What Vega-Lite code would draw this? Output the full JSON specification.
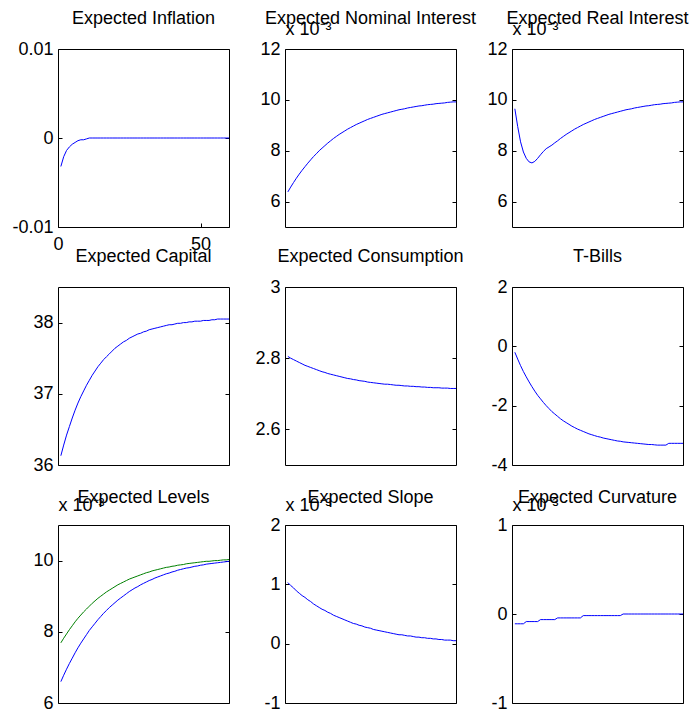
{
  "$schema": "https://vega.github.io/schema/vega-lite/v6.json",
  "autosize": {"type": "pad"},
  "padding": {"left": 11, "top": 9, "right": 0, "bottom": 0},
  "background": "white",
  "columns": 3,
  "spacing": {"row": 60, "column": 56},
  "bounds": "flush",
  "config": {
    "font": "Liberation Sans",
    "view": {"stroke": "#000000", "strokeWidth": 1},
    "axis": {"domain": false, "grid": false, "labelFont": "Liberation Sans", "labelFontSize": 18, "labelColor": "#000000", "tickColor": "#000000", "tickSize": -4, "labelPadding": 9, "labelOverlap": false, "labelFlush": false, "titleFont": "Liberation Sans", "titleFontSize": 18, "titleFontWeight": "normal", "titleColor": "#000000"},
    "title": {"font": "Liberation Sans", "fontSize": 18, "fontWeight": "normal", "color": "#000000", "anchor": "middle", "frame": "group"},
    "locale": {"number": {"decimal": ".", "thousands": ",", "grouping": [3], "currency": ["$", ""], "minus": "-"}}
  },
  "datasets": {
    "inflation": [{"t":1,"v":-0.0032},{"t":2,"v":-0.0021},{"t":3,"v":-0.0014},{"t":4,"v":-0.001},{"t":5,"v":-0.0007},{"t":6,"v":-0.0005},{"t":7,"v":-0.0003},{"t":8,"v":-0.0002},{"t":9,"v":-0.0002},{"t":10,"v":-0.0001},{"t":11,"v":0},{"t":12,"v":0},{"t":13,"v":0},{"t":14,"v":0},{"t":15,"v":0},{"t":16,"v":0},{"t":17,"v":0},{"t":18,"v":0},{"t":19,"v":0},{"t":20,"v":0},{"t":21,"v":0},{"t":22,"v":0},{"t":23,"v":0},{"t":24,"v":0},{"t":25,"v":0},{"t":26,"v":0},{"t":27,"v":0},{"t":28,"v":0},{"t":29,"v":0},{"t":30,"v":0},{"t":31,"v":0},{"t":32,"v":0},{"t":33,"v":0},{"t":34,"v":0},{"t":35,"v":0},{"t":36,"v":0},{"t":37,"v":0},{"t":38,"v":0},{"t":39,"v":0},{"t":40,"v":0},{"t":41,"v":0},{"t":42,"v":0},{"t":43,"v":0},{"t":44,"v":0},{"t":45,"v":0},{"t":46,"v":0},{"t":47,"v":0},{"t":48,"v":0},{"t":49,"v":0},{"t":50,"v":0},{"t":51,"v":0},{"t":52,"v":0},{"t":53,"v":0},{"t":54,"v":0},{"t":55,"v":0},{"t":56,"v":0},{"t":57,"v":0},{"t":58,"v":0},{"t":59,"v":0},{"t":60,"v":0}],
    "nominal": [{"t":1,"v":6.38},{"t":2,"v":6.57},{"t":3,"v":6.75},{"t":4,"v":6.92},{"t":5,"v":7.08},{"t":6,"v":7.23},{"t":7,"v":7.37},{"t":8,"v":7.51},{"t":9,"v":7.64},{"t":10,"v":7.77},{"t":11,"v":7.88},{"t":12,"v":8.0},{"t":13,"v":8.1},{"t":14,"v":8.2},{"t":15,"v":8.3},{"t":16,"v":8.39},{"t":17,"v":8.48},{"t":18,"v":8.56},{"t":19,"v":8.64},{"t":20,"v":8.71},{"t":21,"v":8.78},{"t":22,"v":8.85},{"t":23,"v":8.91},{"t":24,"v":8.97},{"t":25,"v":9.03},{"t":26,"v":9.08},{"t":27,"v":9.13},{"t":28,"v":9.18},{"t":29,"v":9.23},{"t":30,"v":9.27},{"t":31,"v":9.31},{"t":32,"v":9.35},{"t":33,"v":9.39},{"t":34,"v":9.43},{"t":35,"v":9.46},{"t":36,"v":9.49},{"t":37,"v":9.52},{"t":38,"v":9.55},{"t":39,"v":9.58},{"t":40,"v":9.61},{"t":41,"v":9.63},{"t":42,"v":9.65},{"t":43,"v":9.68},{"t":44,"v":9.7},{"t":45,"v":9.72},{"t":46,"v":9.74},{"t":47,"v":9.76},{"t":48,"v":9.77},{"t":49,"v":9.79},{"t":50,"v":9.81},{"t":51,"v":9.82},{"t":52,"v":9.83},{"t":53,"v":9.85},{"t":54,"v":9.86},{"t":55,"v":9.87},{"t":56,"v":9.88},{"t":57,"v":9.9},{"t":58,"v":9.91},{"t":59,"v":9.92},{"t":60,"v":9.92}],
    "real": [{"t":1,"v":9.65},{"t":2,"v":8.95},{"t":3,"v":8.35},{"t":4,"v":7.95},{"t":5,"v":7.7},{"t":6,"v":7.56},{"t":7,"v":7.52},{"t":8,"v":7.58},{"t":9,"v":7.7},{"t":10,"v":7.84},{"t":11,"v":7.97},{"t":12,"v":8.08},{"t":13,"v":8.15},{"t":14,"v":8.22},{"t":15,"v":8.31},{"t":16,"v":8.39},{"t":17,"v":8.48},{"t":18,"v":8.56},{"t":19,"v":8.64},{"t":20,"v":8.71},{"t":21,"v":8.78},{"t":22,"v":8.85},{"t":23,"v":8.91},{"t":24,"v":8.97},{"t":25,"v":9.03},{"t":26,"v":9.08},{"t":27,"v":9.13},{"t":28,"v":9.18},{"t":29,"v":9.23},{"t":30,"v":9.27},{"t":31,"v":9.31},{"t":32,"v":9.35},{"t":33,"v":9.39},{"t":34,"v":9.43},{"t":35,"v":9.46},{"t":36,"v":9.49},{"t":37,"v":9.52},{"t":38,"v":9.55},{"t":39,"v":9.58},{"t":40,"v":9.61},{"t":41,"v":9.63},{"t":42,"v":9.65},{"t":43,"v":9.68},{"t":44,"v":9.7},{"t":45,"v":9.72},{"t":46,"v":9.74},{"t":47,"v":9.76},{"t":48,"v":9.77},{"t":49,"v":9.79},{"t":50,"v":9.81},{"t":51,"v":9.82},{"t":52,"v":9.83},{"t":53,"v":9.85},{"t":54,"v":9.86},{"t":55,"v":9.87},{"t":56,"v":9.88},{"t":57,"v":9.9},{"t":58,"v":9.91},{"t":59,"v":9.92},{"t":60,"v":9.92}],
    "capital": [{"t":1,"v":36.13},{"t":2,"v":36.28},{"t":3,"v":36.42},{"t":4,"v":36.54},{"t":5,"v":36.66},{"t":6,"v":36.77},{"t":7,"v":36.87},{"t":8,"v":36.96},{"t":9,"v":37.04},{"t":10,"v":37.12},{"t":11,"v":37.19},{"t":12,"v":37.26},{"t":13,"v":37.32},{"t":14,"v":37.38},{"t":15,"v":37.43},{"t":16,"v":37.48},{"t":17,"v":37.52},{"t":18,"v":37.56},{"t":19,"v":37.6},{"t":20,"v":37.64},{"t":21,"v":37.67},{"t":22,"v":37.7},{"t":23,"v":37.73},{"t":24,"v":37.75},{"t":25,"v":37.78},{"t":26,"v":37.8},{"t":27,"v":37.82},{"t":28,"v":37.84},{"t":29,"v":37.85},{"t":30,"v":37.87},{"t":31,"v":37.88},{"t":32,"v":37.9},{"t":33,"v":37.91},{"t":34,"v":37.92},{"t":35,"v":37.93},{"t":36,"v":37.94},{"t":37,"v":37.95},{"t":38,"v":37.96},{"t":39,"v":37.97},{"t":40,"v":37.97},{"t":41,"v":37.98},{"t":42,"v":37.99},{"t":43,"v":37.99},{"t":44,"v":38.0},{"t":45,"v":38.0},{"t":46,"v":38.01},{"t":47,"v":38.01},{"t":48,"v":38.02},{"t":49,"v":38.02},{"t":50,"v":38.02},{"t":51,"v":38.03},{"t":52,"v":38.03},{"t":53,"v":38.03},{"t":54,"v":38.04},{"t":55,"v":38.04},{"t":56,"v":38.05},{"t":57,"v":38.05},{"t":58,"v":38.05},{"t":59,"v":38.05},{"t":60,"v":38.05}],
    "consumption": [{"t":1,"v":2.805},{"t":2,"v":2.8},{"t":3,"v":2.796},{"t":4,"v":2.792},{"t":5,"v":2.788},{"t":6,"v":2.784},{"t":7,"v":2.78},{"t":8,"v":2.777},{"t":9,"v":2.774},{"t":10,"v":2.771},{"t":11,"v":2.768},{"t":12,"v":2.765},{"t":13,"v":2.762},{"t":14,"v":2.76},{"t":15,"v":2.757},{"t":16,"v":2.755},{"t":17,"v":2.753},{"t":18,"v":2.751},{"t":19,"v":2.749},{"t":20,"v":2.747},{"t":21,"v":2.745},{"t":22,"v":2.743},{"t":23,"v":2.742},{"t":24,"v":2.74},{"t":25,"v":2.739},{"t":26,"v":2.737},{"t":27,"v":2.736},{"t":28,"v":2.735},{"t":29,"v":2.733},{"t":30,"v":2.732},{"t":31,"v":2.731},{"t":32,"v":2.73},{"t":33,"v":2.729},{"t":34,"v":2.728},{"t":35,"v":2.727},{"t":36,"v":2.727},{"t":37,"v":2.726},{"t":38,"v":2.725},{"t":39,"v":2.724},{"t":40,"v":2.724},{"t":41,"v":2.723},{"t":42,"v":2.722},{"t":43,"v":2.722},{"t":44,"v":2.721},{"t":45,"v":2.721},{"t":46,"v":2.72},{"t":47,"v":2.72},{"t":48,"v":2.719},{"t":49,"v":2.719},{"t":50,"v":2.718},{"t":51,"v":2.718},{"t":52,"v":2.717},{"t":53,"v":2.717},{"t":54,"v":2.717},{"t":55,"v":2.716},{"t":56,"v":2.716},{"t":57,"v":2.716},{"t":58,"v":2.715},{"t":59,"v":2.715},{"t":60,"v":2.715}],
    "tbills": [{"t":1,"v":-0.2},{"t":2,"v":-0.43},{"t":3,"v":-0.65},{"t":4,"v":-0.85},{"t":5,"v":-1.03},{"t":6,"v":-1.2},{"t":7,"v":-1.36},{"t":8,"v":-1.51},{"t":9,"v":-1.65},{"t":10,"v":-1.77},{"t":11,"v":-1.89},{"t":12,"v":-2.0},{"t":13,"v":-2.1},{"t":14,"v":-2.2},{"t":15,"v":-2.28},{"t":16,"v":-2.36},{"t":17,"v":-2.44},{"t":18,"v":-2.51},{"t":19,"v":-2.57},{"t":20,"v":-2.63},{"t":21,"v":-2.69},{"t":22,"v":-2.74},{"t":23,"v":-2.79},{"t":24,"v":-2.83},{"t":25,"v":-2.87},{"t":26,"v":-2.91},{"t":27,"v":-2.95},{"t":28,"v":-2.98},{"t":29,"v":-3.01},{"t":30,"v":-3.04},{"t":31,"v":-3.06},{"t":32,"v":-3.09},{"t":33,"v":-3.11},{"t":34,"v":-3.13},{"t":35,"v":-3.15},{"t":36,"v":-3.17},{"t":37,"v":-3.19},{"t":38,"v":-3.2},{"t":39,"v":-3.22},{"t":40,"v":-3.23},{"t":41,"v":-3.24},{"t":42,"v":-3.25},{"t":43,"v":-3.26},{"t":44,"v":-3.27},{"t":45,"v":-3.28},{"t":46,"v":-3.29},{"t":47,"v":-3.3},{"t":48,"v":-3.31},{"t":49,"v":-3.31},{"t":50,"v":-3.32},{"t":51,"v":-3.33},{"t":52,"v":-3.33},{"t":53,"v":-3.33},{"t":54,"v":-3.33},{"t":55,"v":-3.27},{"t":56,"v":-3.27},{"t":57,"v":-3.27},{"t":58,"v":-3.27},{"t":59,"v":-3.27},{"t":60,"v":-3.27}],
    "levels": [{"t":1,"s":"b","v":6.6},{"t":2,"s":"b","v":6.78},{"t":3,"s":"b","v":6.95},{"t":4,"s":"b","v":7.11},{"t":5,"s":"b","v":7.26},{"t":6,"s":"b","v":7.41},{"t":7,"s":"b","v":7.55},{"t":8,"s":"b","v":7.68},{"t":9,"s":"b","v":7.8},{"t":10,"s":"b","v":7.92},{"t":11,"s":"b","v":8.04},{"t":12,"s":"b","v":8.14},{"t":13,"s":"b","v":8.24},{"t":14,"s":"b","v":8.34},{"t":15,"s":"b","v":8.43},{"t":16,"s":"b","v":8.52},{"t":17,"s":"b","v":8.6},{"t":18,"s":"b","v":8.68},{"t":19,"s":"b","v":8.75},{"t":20,"s":"b","v":8.82},{"t":21,"s":"b","v":8.89},{"t":22,"s":"b","v":8.95},{"t":23,"s":"b","v":9.01},{"t":24,"s":"b","v":9.07},{"t":25,"s":"b","v":9.13},{"t":26,"s":"b","v":9.18},{"t":27,"s":"b","v":9.23},{"t":28,"s":"b","v":9.27},{"t":29,"s":"b","v":9.32},{"t":30,"s":"b","v":9.36},{"t":31,"s":"b","v":9.4},{"t":32,"s":"b","v":9.44},{"t":33,"s":"b","v":9.47},{"t":34,"s":"b","v":9.51},{"t":35,"s":"b","v":9.54},{"t":36,"s":"b","v":9.57},{"t":37,"s":"b","v":9.6},{"t":38,"s":"b","v":9.63},{"t":39,"s":"b","v":9.65},{"t":40,"s":"b","v":9.68},{"t":41,"s":"b","v":9.7},{"t":42,"s":"b","v":9.73},{"t":43,"s":"b","v":9.75},{"t":44,"s":"b","v":9.77},{"t":45,"s":"b","v":9.79},{"t":46,"s":"b","v":9.8},{"t":47,"s":"b","v":9.82},{"t":48,"s":"b","v":9.84},{"t":49,"s":"b","v":9.85},{"t":50,"s":"b","v":9.87},{"t":51,"s":"b","v":9.88},{"t":52,"s":"b","v":9.9},{"t":53,"s":"b","v":9.91},{"t":54,"s":"b","v":9.92},{"t":55,"s":"b","v":9.93},{"t":56,"s":"b","v":9.94},{"t":57,"s":"b","v":9.95},{"t":58,"s":"b","v":9.96},{"t":59,"s":"b","v":9.97},{"t":60,"s":"b","v":9.98},
      {"t":1,"s":"g","v":7.69},{"t":2,"s":"g","v":7.82},{"t":3,"s":"g","v":7.94},{"t":4,"s":"g","v":8.06},{"t":5,"s":"g","v":8.17},{"t":6,"s":"g","v":8.28},{"t":7,"s":"g","v":8.38},{"t":8,"s":"g","v":8.47},{"t":9,"s":"g","v":8.56},{"t":10,"s":"g","v":8.64},{"t":11,"s":"g","v":8.72},{"t":12,"s":"g","v":8.8},{"t":13,"s":"g","v":8.87},{"t":14,"s":"g","v":8.94},{"t":15,"s":"g","v":9.0},{"t":16,"s":"g","v":9.06},{"t":17,"s":"g","v":9.12},{"t":18,"s":"g","v":9.17},{"t":19,"s":"g","v":9.22},{"t":20,"s":"g","v":9.27},{"t":21,"s":"g","v":9.32},{"t":22,"s":"g","v":9.36},{"t":23,"s":"g","v":9.4},{"t":24,"s":"g","v":9.44},{"t":25,"s":"g","v":9.48},{"t":26,"s":"g","v":9.51},{"t":27,"s":"g","v":9.54},{"t":28,"s":"g","v":9.57},{"t":29,"s":"g","v":9.6},{"t":30,"s":"g","v":9.63},{"t":31,"s":"g","v":9.66},{"t":32,"s":"g","v":9.68},{"t":33,"s":"g","v":9.71},{"t":34,"s":"g","v":9.73},{"t":35,"s":"g","v":9.75},{"t":36,"s":"g","v":9.77},{"t":37,"s":"g","v":9.79},{"t":38,"s":"g","v":9.81},{"t":39,"s":"g","v":9.82},{"t":40,"s":"g","v":9.84},{"t":41,"s":"g","v":9.85},{"t":42,"s":"g","v":9.87},{"t":43,"s":"g","v":9.88},{"t":44,"s":"g","v":9.89},{"t":45,"s":"g","v":9.91},{"t":46,"s":"g","v":9.92},{"t":47,"s":"g","v":9.93},{"t":48,"s":"g","v":9.94},{"t":49,"s":"g","v":9.95},{"t":50,"s":"g","v":9.96},{"t":51,"s":"g","v":9.97},{"t":52,"s":"g","v":9.98},{"t":53,"s":"g","v":9.98},{"t":54,"s":"g","v":9.99},{"t":55,"s":"g","v":10.0},{"t":56,"s":"g","v":10.0},{"t":57,"s":"g","v":10.01},{"t":58,"s":"g","v":10.02},{"t":59,"s":"g","v":10.02},{"t":60,"s":"g","v":10.03}],
    "slope": [{"t":1,"v":1.03},{"t":2,"v":0.98},{"t":3,"v":0.94},{"t":4,"v":0.89},{"t":5,"v":0.85},{"t":6,"v":0.81},{"t":7,"v":0.78},{"t":8,"v":0.74},{"t":9,"v":0.71},{"t":10,"v":0.67},{"t":11,"v":0.64},{"t":12,"v":0.61},{"t":13,"v":0.58},{"t":14,"v":0.56},{"t":15,"v":0.53},{"t":16,"v":0.51},{"t":17,"v":0.48},{"t":18,"v":0.46},{"t":19,"v":0.44},{"t":20,"v":0.42},{"t":21,"v":0.4},{"t":22,"v":0.38},{"t":23,"v":0.36},{"t":24,"v":0.34},{"t":25,"v":0.33},{"t":26,"v":0.31},{"t":27,"v":0.3},{"t":28,"v":0.28},{"t":29,"v":0.27},{"t":30,"v":0.26},{"t":31,"v":0.24},{"t":32,"v":0.23},{"t":33,"v":0.22},{"t":34,"v":0.21},{"t":35,"v":0.2},{"t":36,"v":0.19},{"t":37,"v":0.18},{"t":38,"v":0.17},{"t":39,"v":0.16},{"t":40,"v":0.15},{"t":41,"v":0.15},{"t":42,"v":0.14},{"t":43,"v":0.13},{"t":44,"v":0.13},{"t":45,"v":0.12},{"t":46,"v":0.11},{"t":47,"v":0.11},{"t":48,"v":0.1},{"t":49,"v":0.1},{"t":50,"v":0.09},{"t":51,"v":0.09},{"t":52,"v":0.08},{"t":53,"v":0.08},{"t":54,"v":0.07},{"t":55,"v":0.07},{"t":56,"v":0.06},{"t":57,"v":0.06},{"t":58,"v":0.06},{"t":59,"v":0.05},{"t":60,"v":0.05}],
    "curvature": [{"t":1,"v":-0.11},{"t":2,"v":-0.11},{"t":3,"v":-0.11},{"t":4,"v":-0.11},{"t":5,"v":-0.085},{"t":6,"v":-0.085},{"t":7,"v":-0.085},{"t":8,"v":-0.085},{"t":9,"v":-0.085},{"t":10,"v":-0.063},{"t":11,"v":-0.063},{"t":12,"v":-0.063},{"t":13,"v":-0.063},{"t":14,"v":-0.063},{"t":15,"v":-0.063},{"t":16,"v":-0.044},{"t":17,"v":-0.044},{"t":18,"v":-0.044},{"t":19,"v":-0.044},{"t":20,"v":-0.044},{"t":21,"v":-0.044},{"t":22,"v":-0.044},{"t":23,"v":-0.044},{"t":24,"v":-0.044},{"t":25,"v":-0.018},{"t":26,"v":-0.018},{"t":27,"v":-0.018},{"t":28,"v":-0.018},{"t":29,"v":-0.018},{"t":30,"v":-0.018},{"t":31,"v":-0.018},{"t":32,"v":-0.018},{"t":33,"v":-0.018},{"t":34,"v":-0.018},{"t":35,"v":-0.018},{"t":36,"v":-0.018},{"t":37,"v":-0.018},{"t":38,"v":-0.018},{"t":39,"v":0},{"t":40,"v":0},{"t":41,"v":0},{"t":42,"v":0},{"t":43,"v":0},{"t":44,"v":0},{"t":45,"v":0},{"t":46,"v":0},{"t":47,"v":0},{"t":48,"v":0},{"t":49,"v":0},{"t":50,"v":0},{"t":51,"v":0},{"t":52,"v":0},{"t":53,"v":0},{"t":54,"v":0},{"t":55,"v":0},{"t":56,"v":0},{"t":57,"v":0},{"t":58,"v":0},{"t":59,"v":0},{"t":60,"v":0}]
  },
  "concat": [
    {
      "width": 171, "height": 178,
      "title": {"text": "Expected Inflation", "offset": 12},
      "data": {"name": "inflation"},
      "encoding": {"x": {"field": "t", "type": "quantitative", "scale": {"domain": [0, 60], "nice": false, "zero": false}, "axis": {"values": [0, 50], "format": "~r", "title": null, "labelPadding": 12}}},
      "layer": [
        {"mark": {"type": "line", "color": "#0000ff", "strokeWidth": 1}, "encoding": {"y": {"field": "v", "type": "quantitative", "scale": {"domain": [-0.01, 0.01], "nice": false, "zero": false}, "axis": {"values": [-0.01, 0, 0.01], "format": "~r", "title": null}}}},
        {"mark": {"type": "line", "opacity": 0}, "encoding": {"y": {"field": "v", "type": "quantitative", "axis": {"orient": "right", "values": [-0.01, 0, 0.01], "labels": false, "title": null}}}}
      ],
      "resolve": {"axis": {"y": "independent"}}
    },
    {
      "width": 171, "height": 178,
      "title": {"text": "Expected Nominal Interest", "offset": -8},
      "data": {"name": "nominal"},
      "encoding": {"x": {"field": "t", "type": "quantitative", "scale": {"domain": [0, 60], "nice": false, "zero": false}, "axis": null}},
      "layer": [
        {"mark": {"type": "line", "color": "#0000ff", "strokeWidth": 1}, "encoding": {"y": {"field": "v", "type": "quantitative", "scale": {"domain": [5, 12], "nice": false, "zero": false}, "axis": {"values": [6, 8, 10, 12], "format": "~r", "title": "x 10⁻³", "titleAngle": 0, "titleAlign": "left", "titleBaseline": "alphabetic", "titleX": 0, "titleY": -15}}}},
        {"mark": {"type": "line", "opacity": 0}, "encoding": {"y": {"field": "v", "type": "quantitative", "axis": {"orient": "right", "values": [6, 8, 10, 12], "labels": false, "title": null}}}}
      ],
      "resolve": {"axis": {"y": "independent"}}
    },
    {
      "width": 171, "height": 178,
      "title": {"text": "Expected Real Interest", "offset": -8},
      "data": {"name": "real"},
      "encoding": {"x": {"field": "t", "type": "quantitative", "scale": {"domain": [0, 60], "nice": false, "zero": false}, "axis": null}},
      "layer": [
        {"mark": {"type": "line", "color": "#0000ff", "strokeWidth": 1}, "encoding": {"y": {"field": "v", "type": "quantitative", "scale": {"domain": [5, 12], "nice": false, "zero": false}, "axis": {"values": [6, 8, 10, 12], "format": "~r", "title": "x 10⁻³", "titleAngle": 0, "titleAlign": "left", "titleBaseline": "alphabetic", "titleX": 0, "titleY": -15}}}},
        {"mark": {"type": "line", "opacity": 0}, "encoding": {"y": {"field": "v", "type": "quantitative", "axis": {"orient": "right", "values": [6, 8, 10, 12], "labels": false, "title": null}}}}
      ],
      "resolve": {"axis": {"y": "independent"}}
    },
    {
      "width": 171, "height": 178,
      "title": {"text": "Expected Capital", "offset": 21},
      "data": {"name": "capital"},
      "encoding": {"x": {"field": "t", "type": "quantitative", "scale": {"domain": [0, 60], "nice": false, "zero": false}, "axis": null}},
      "layer": [
        {"mark": {"type": "line", "color": "#0000ff", "strokeWidth": 1}, "encoding": {"y": {"field": "v", "type": "quantitative", "scale": {"domain": [36, 38.5], "nice": false, "zero": false}, "axis": {"values": [36, 37, 38], "format": "~r", "title": null}}}},
        {"mark": {"type": "line", "opacity": 0}, "encoding": {"y": {"field": "v", "type": "quantitative", "axis": {"orient": "right", "values": [36, 37, 38], "labels": false, "title": null}}}}
      ],
      "resolve": {"axis": {"y": "independent"}}
    },
    {
      "width": 171, "height": 178,
      "title": {"text": "Expected Consumption", "offset": 12},
      "data": {"name": "consumption"},
      "encoding": {"x": {"field": "t", "type": "quantitative", "scale": {"domain": [0, 60], "nice": false, "zero": false}, "axis": null}},
      "layer": [
        {"mark": {"type": "line", "color": "#0000ff", "strokeWidth": 1}, "encoding": {"y": {"field": "v", "type": "quantitative", "scale": {"domain": [2.5, 3], "nice": false, "zero": false}, "axis": {"values": [2.6, 2.8, 3], "format": "~r", "title": null}}}},
        {"mark": {"type": "line", "opacity": 0}, "encoding": {"y": {"field": "v", "type": "quantitative", "axis": {"orient": "right", "values": [2.6, 2.8, 3], "labels": false, "title": null}}}}
      ],
      "resolve": {"axis": {"y": "independent"}}
    },
    {
      "width": 171, "height": 178,
      "title": {"text": "T-Bills", "offset": 12},
      "data": {"name": "tbills"},
      "encoding": {"x": {"field": "t", "type": "quantitative", "scale": {"domain": [0, 60], "nice": false, "zero": false}, "axis": null}},
      "layer": [
        {"mark": {"type": "line", "color": "#0000ff", "strokeWidth": 1}, "encoding": {"y": {"field": "v", "type": "quantitative", "scale": {"domain": [-4, 2], "nice": false, "zero": false}, "axis": {"values": [-4, -2, 0, 2], "format": "~r", "title": null}}}},
        {"mark": {"type": "line", "opacity": 0}, "encoding": {"y": {"field": "v", "type": "quantitative", "axis": {"orient": "right", "values": [-4, -2, 0, 2], "labels": false, "title": null}}}}
      ],
      "resolve": {"axis": {"y": "independent"}}
    },
    {
      "width": 171, "height": 178,
      "title": {"text": "Expected Levels", "offset": -11},
      "data": {"name": "levels"},
      "encoding": {"x": {"field": "t", "type": "quantitative", "scale": {"domain": [0, 60], "nice": false, "zero": false}, "axis": null}},
      "layer": [
        {"mark": {"type": "line", "strokeWidth": 1}, "encoding": {"color": {"field": "s", "type": "nominal", "scale": {"domain": ["b", "g"], "range": ["#0000ff", "#008000"]}, "legend": null}, "y": {"field": "v", "type": "quantitative", "scale": {"domain": [6, 11], "nice": false, "zero": false}, "axis": {"values": [6, 8, 10], "format": "~r", "title": "x 10⁻³", "titleAngle": 0, "titleAlign": "left", "titleBaseline": "alphabetic", "titleX": 0, "titleY": -15}}}},
        {"mark": {"type": "line", "opacity": 0}, "encoding": {"detail": {"field": "s"}, "y": {"field": "v", "type": "quantitative", "axis": {"orient": "right", "values": [6, 8, 10], "labels": false, "title": null}}}}
      ],
      "resolve": {"axis": {"y": "independent"}}
    },
    {
      "width": 171, "height": 178,
      "title": {"text": "Expected Slope", "offset": -11},
      "data": {"name": "slope"},
      "encoding": {"x": {"field": "t", "type": "quantitative", "scale": {"domain": [0, 60], "nice": false, "zero": false}, "axis": null}},
      "layer": [
        {"mark": {"type": "line", "color": "#0000ff", "strokeWidth": 1}, "encoding": {"y": {"field": "v", "type": "quantitative", "scale": {"domain": [-1, 2], "nice": false, "zero": false}, "axis": {"values": [-1, 0, 1, 2], "format": "~r", "title": "x 10⁻³", "titleAngle": 0, "titleAlign": "left", "titleBaseline": "alphabetic", "titleX": 0, "titleY": -15}}}},
        {"mark": {"type": "line", "opacity": 0}, "encoding": {"y": {"field": "v", "type": "quantitative", "axis": {"orient": "right", "values": [-1, 0, 1, 2], "labels": false, "title": null}}}}
      ],
      "resolve": {"axis": {"y": "independent"}}
    },
    {
      "width": 171, "height": 178,
      "title": {"text": "Expected Curvature", "offset": -11},
      "data": {"name": "curvature"},
      "encoding": {"x": {"field": "t", "type": "quantitative", "scale": {"domain": [0, 60], "nice": false, "zero": false}, "axis": null}},
      "layer": [
        {"mark": {"type": "line", "color": "#0000ff", "strokeWidth": 1}, "encoding": {"y": {"field": "v", "type": "quantitative", "scale": {"domain": [-1, 1], "nice": false, "zero": false}, "axis": {"values": [-1, 0, 1], "format": "~r", "title": "x 10⁻³", "titleAngle": 0, "titleAlign": "left", "titleBaseline": "alphabetic", "titleX": 0, "titleY": -15}}}},
        {"mark": {"type": "line", "opacity": 0}, "encoding": {"y": {"field": "v", "type": "quantitative", "axis": {"orient": "right", "values": [-1, 0, 1], "labels": false, "title": null}}}}
      ],
      "resolve": {"axis": {"y": "independent"}}
    }
  ]
}
